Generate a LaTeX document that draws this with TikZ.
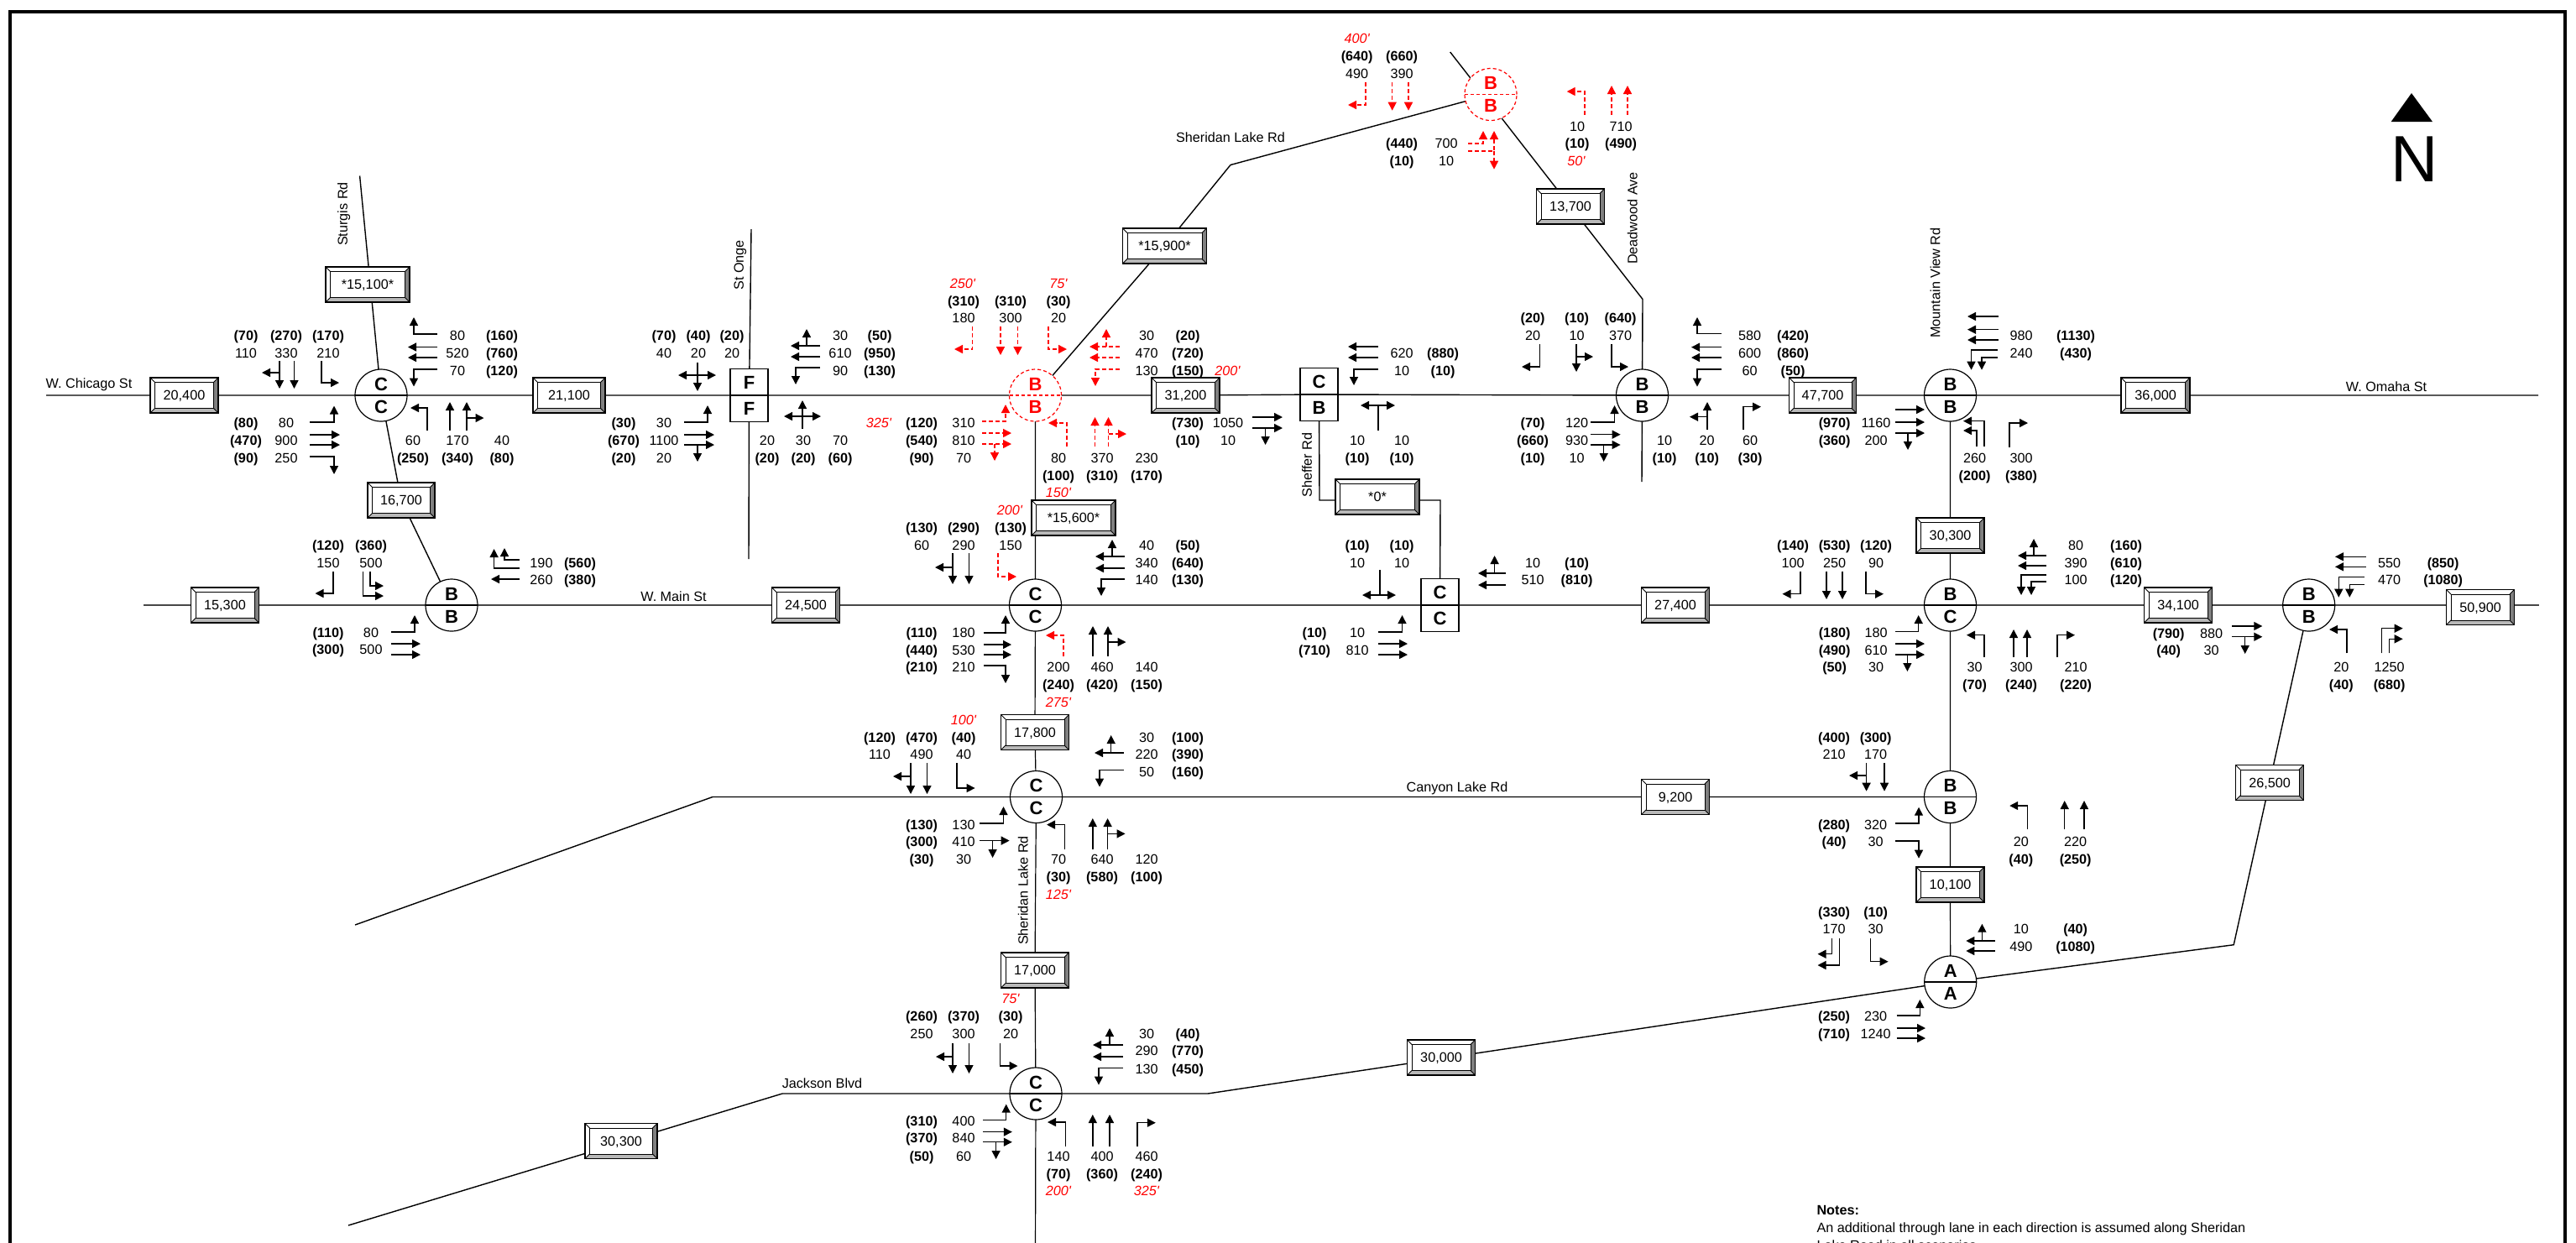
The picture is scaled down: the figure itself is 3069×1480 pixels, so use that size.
\documentclass[tikz,border=0pt]{standalone}
\usepackage{fontspec}
\setmainfont{Liberation Sans}
\newfontfamily\redfont{Liberation Sans}
\usetikzlibrary{arrows.meta,calc}
\pgfdeclarelayer{bg}\pgfsetlayers{bg,main}
\newcount\labc
\tikzset{
 lab/.style={inner sep=0pt,outer sep=0pt,text height=5.8pt,text depth=0pt,font=\fontsize{8.1}{10}\selectfont},
 labb/.style={lab,font=\fontsize{8.1}{10}\selectfont\bfseries},
 labr/.style={lab,text=red,font=\fontsize{8.1}{10}\selectfont\redfont\itshape},
 lane/.style={line width=0.7pt,-{Triangle[length=5pt,width=5pt]}},
 lanered/.style={lane,red,dash pattern=on 2.5pt off 1.5pt},
 road/.style={line width=0.7pt,black},
 mainroad/.style={line width=0.95pt,black!72},
 volbox/.style={draw=black,fill=white,line width=0.6pt,inner sep=0pt,outer sep=0pt,minimum height=21pt,text height=5.8pt,text depth=0pt,font=\fontsize{8.1}{10}\selectfont},
 ixc/.style={circle,draw=black,fill=white,line width=0.6pt,inner sep=0pt,outer sep=0pt,minimum size=31pt},
 ixcr/.style={circle,draw=red,fill=white,line width=0.6pt,dash pattern=on 2pt off 1.5pt,inner sep=0pt,outer sep=0pt,minimum size=31pt},
 ixs/.style={rectangle,draw=black,fill=white,line width=0.6pt,inner sep=0pt,outer sep=0pt,minimum width=22.5pt,minimum height=31.5pt},
 letter/.style={inner sep=0pt,outer sep=0pt,text height=7.8pt,text depth=0pt,font=\fontsize{11}{12}\selectfont\bfseries},
}
\def\lbl#1#2#3{\global\advance\labc by 1 \node[lab] (t\the\labc) at (#1,#2) {#3};}
\def\lbb#1#2#3{\global\advance\labc by 1 \node[labb] (t\the\labc) at (#1,#2) {#3};}
\def\lbr#1#2#3{\global\advance\labc by 1 \node[labr] (t\the\labc) at (#1,#2) {#3};}
\def\lbn#1#2#3{\global\advance\labc by 1 \node[lab,rotate=90] (t\the\labc) at (#1,#2) {#3};}
\def\ar#1{\draw[lane] #1;}
\def\re#1{\draw[lanered] #1;}
\def\vol#1#2#3#4#5{%
 \node[volbox,minimum width=#4*0.5pt] (#1) at (#2,#3) {#5};
 \fill[black!50] (#1.north east) -- (#1.south east) -- ($(#1.south east)+(-5.5,-5.5)$) -- ($(#1.north east)+(-5.5,5.5)$) -- cycle;
 \fill[black!28] (#1.south west) -- (#1.south east) -- ($(#1.south east)+(-5.5,-5.5)$) -- ($(#1.south west)+(5.5,-5.5)$) -- cycle;
 \draw[line width=0.45pt] ($(#1.north west)+(5.5,5.5)$) rectangle ($(#1.south east)+(-5.5,-5.5)$);
 \draw[line width=0.4pt] (#1.north west) -- ($(#1.north west)+(5.5,5.5)$) (#1.north east) -- ($(#1.north east)+(-5.5,5.5)$) (#1.south west) -- ($(#1.south west)+(5.5,-5.5)$) (#1.south east) -- ($(#1.south east)+(-5.5,-5.5)$);
 \draw[line width=0.6pt] (#1.north west) rectangle (#1.south east);
}
\def\ixn#1#2#3#4#5{%
 \node[ixc] (#1) at (#2,#3) {};
 \draw[road] (#1.west) -- (#1.east);
 \node[letter] (#1t) at (#2,#3-13.5) {#4};
 \node[letter] (#1b) at (#2,#3+13.5) {#5};
}
\def\ixr#1#2#3#4#5{%
 \node[ixcr] (#1) at (#2,#3) {};
 \draw[line width=0.6pt,red,dash pattern=on 2pt off 1.5pt] (#1.west) -- (#1.east);
 \node[letter,text=red] (#1t) at (#2,#3-13.5) {#4};
 \node[letter,text=red] (#1b) at (#2,#3+13.5) {#5};
}
\def\ixq#1#2#3#4#5{%
 \node[ixs] (#1) at (#2,#3) {};
 \draw[road] (#1.west) -- (#1.east);
 \node[letter] (#1t) at (#2,#3-15.5) {#4};
 \node[letter] (#1b) at (#2,#3+15.5) {#5};
}
\begin{document}
\begin{tikzpicture}[x=0.5pt,y=-0.5pt]
\useasboundingbox (0,0) rectangle (3069,1480);
\clip (0,0) rectangle (3069,1480);
% frame
\draw[line width=2pt] (12,1500) -- (12,14) -- (3056,14) -- (3056,1500);
% named free ends
\coordinate (cw) at (55,471); \coordinate (ce) at (3024,471);
\coordinate (mw) at (171,721); \coordinate (me) at (3025,721);
\coordinate (st1) at (428.6,209.5); \coordinate (so1) at (895,273); \coordinate (so2) at (892,666);
\coordinate (sb) at (1466,196.5); \coordinate (dt) at (1727.7,62); \coordinate (d2) at (1957,356.5); \coordinate (d3) at (1956,574);
\coordinate (sf1) at (1572,596); \coordinate (sf2) at (1716,596);
\coordinate (cl1) at (423,1102); \coordinate (cl2) at (849,949.5);
\coordinate (j1) at (415,1460); \coordinate (j2) at (932,1303); \coordinate (j3) at (1439,1303); \coordinate (j4) at (2661.2,1125.7);
\coordinate (sb0) at (1233.5,1500);
% intersections
\ixn{cca}{454}{471}{C}{C}
\ixn{bbl}{538}{721}{B}{B}
\ixq{ff}{892.5}{471}{F}{F}
\ixr{bbr}{1233.5}{471}{B}{B}
\ixr{bbt}{1776}{112.5}{B}{B}
\ixq{cb}{1571.5}{470}{C}{B}
\ixq{ccs}{1715.5}{721}{C}{C}
\ixn{bbd}{1956.5}{471}{B}{B}
\ixn{bbm}{2323.5}{471}{B}{B}
\ixn{ccm}{1233.5}{721}{C}{C}
\ixn{bc}{2323.5}{721}{B}{C}
\ixn{bbe}{2750.7}{721}{B}{B}
\ixn{ccc}{1234.5}{949.5}{C}{C}
\ixn{bbc}{2323.5}{949.5}{B}{B}
\ixn{ccj}{1234}{1303}{C}{C}
\ixn{aa}{2323.7}{1170}{A}{A}
% volume boxes
\vol{v20400}{219.5}{471}{81}{20,400}
\vol{v15100}{438}{339}{100}{*15,100*}
\vol{v21100}{678}{471}{86}{21,100}
\vol{v16700}{478}{596}{80}{16,700}
\vol{v15300}{268}{721}{81}{15,300}
\vol{v24500}{960}{721}{81}{24,500}
\vol{v15900}{1387.5}{293}{100}{*15,900*}
\vol{v13700}{1871}{246}{81}{13,700}
\vol{v31200}{1412.5}{471}{81}{31,200}
\vol{v15600}{1279}{617}{100}{*15,600*}
\vol{v0}{1641}{592}{100}{*0*}
\vol{v47700}{2171.5}{471}{80}{47,700}
\vol{v36000}{2568}{471}{82}{36,000}
\vol{v30300b}{2323.5}{638}{81}{30,300}
\vol{v27400}{1996}{721}{81}{27,400}
\vol{v34100}{2595}{721}{81}{34,100}
\vol{v50900}{2955}{723.5}{81}{50,900}
\vol{v17800}{1233}{872.5}{81}{17,800}
\vol{v9200}{1996}{949.5}{81}{9,200}
\vol{v26500}{2704}{932.5}{81}{26,500}
\vol{v10100}{2323.5}{1054}{81}{10,100}
\vol{v17000}{1233}{1156}{81}{17,000}
\vol{v30000}{1717}{1260}{81}{30,000}
\vol{v30300}{740}{1359.5}{86}{30,300}
% roads
\begin{pgfonlayer}{bg}
\draw[road] (cw) -- (v20400) (v20400) -- (cca) (cca) -- (v21100) (v21100) -- (ff) (ff) -- (bbr) (bbr) -- (v31200) (v31200) -- (cb.center) (cb.center) -- (bbd) (bbd) -- (v47700) (v47700) -- (bbm) (bbm) -- (v36000) (v36000) -- (ce);
\draw[mainroad] (mw) -- (v15300) (v15300) -- (bbl) (bbl) -- (v24500) (v24500) -- (ccm) (ccm) -- (ccs) (ccs) -- (v27400) (v27400) -- (bc) (bc) -- (v34100) (v34100) -- (bbe) (bbe) -- (me);
\draw[road] (cl1) -- (cl2) -- (ccc) (ccc) -- (v9200) (v9200) -- (bbc);
\draw[road] (j1) -- (j2) -- (ccj) (ccj) -- (j3) -- (aa) (aa) -- (j4) -- (bbe);
\draw[road] (st1) -- (cca) (cca) -- (v16700) (v16700) -- (bbl);
\draw[road] (so1) -- (ff) (ff) -- (so2);
\draw[road] (bbr) -- (v15900) (v15900) -- (sb) -- (bbt);
\draw[road] (dt) -- (d2) -- (bbd) (bbd) -- (d3);
\draw[road] (cb) -- (sf1) -- (sf2) -- (ccs);
\draw[road,line width=0.6pt] (bbr) -- (ccm) (ccm) -- (v17800) (v17800) -- (ccc) (ccc) -- (v17000) (v17000) -- (ccj) (ccj) -- (sb0);
\draw[road,line width=0.6pt] (bbm) -- (v30300b) (v30300b) -- (bc) (bc) -- (bbc) (bbc) -- (v10100) (v10100) -- (aa);
\end{pgfonlayer}
% road names
\lbl{106}{457}{W. Chicago St}
\lbl{802.5}{711}{W. Main St}
\lbl{2843}{461}{W. Omaha St}
\lbl{1466}{164}{Sheridan Lake Rd}
\lbl{1736}{938}{Canyon Lake Rd}
\lbl{979.5}{1291}{Jackson Blvd}
\lbn{408}{255}{Sturgis Rd}
\lbn{880}{316}{St Onge}
\lbn{1557}{554}{Sheffer Rd}
\lbn{1218.7}{1061}{Sheridan Lake Rd}
\lbn{1944.7}{260}{Deadwood Ave}
\lbn{2305.6}{337}{Mountain View Rd}
% north arrow
\fill (2873,111) -- (2898,145) -- (2848.7,145) -- cycle;
\node[inner sep=0pt,text height=28pt,text depth=0pt,font=\fontsize{39}{40}\selectfont] (north) at (2876.7,188.7) {N};
% notes
\node[labb,anchor=west] (n1) at (2164.5,1442) {Notes:};
\node[lab,anchor=west] (n2) at (2164.5,1463) {An additional through lane in each direction is assumed along Sheridan};
\node[lab,anchor=west] (n3) at (2164.5,1484) {Lake Road in all scenarios};
% ---- Chicago/Sturgis
\lbb{293}{400}{(70)}\lbb{341}{400}{(270)}\lbb{391}{400}{(170)}
\lbl{293}{421}{110}\lbl{341}{421}{330}\lbl{391}{421}{210}
\lbl{545}{400}{80}\lbb{598}{400}{(160)}\lbl{545}{421}{520}\lbb{598}{421}{(760)}\lbl{545}{442}{70}\lbb{598}{442}{(120)}
\lbb{293}{504}{(80)}\lbl{341}{504}{80}\lbb{293}{525}{(470)}\lbl{341}{525}{900}\lbb{293}{546}{(90)}\lbl{341}{546}{250}
\lbl{492}{525}{60}\lbl{545}{525}{170}\lbl{598}{525}{40}\lbb{492}{546}{(250)}\lbb{545}{546}{(340)}\lbb{598}{546}{(80)}
\ar{(333,430)--(333,463)}\ar{(333,444)--(312,444)}\ar{(350.5,430)--(350.5,463)}\ar{(383,430)--(383,456)--(404,456)}
\ar{(521,398)--(493,398)--(493,378)}\ar{(521,413.5)--(486,413.5)}\ar{(521,426)--(486,426)}\ar{(521,440)--(493,440)--(493,460.5)}
\ar{(369,503)--(398,503)--(398,483.5)}\ar{(369,518)--(405,518)}\ar{(369,530)--(405,530)}\ar{(369,544)--(398,544)--(398,565)}
\ar{(509,513)--(509,486)--(489,486)}\ar{(536,513)--(536,479)}\ar{(556,513)--(556,479)}\ar{(556,498)--(576.5,498)}
% ---- Main/west B
\lbb{391}{650}{(120)}\lbb{442}{650}{(360)}\lbl{391}{671}{150}\lbl{442}{671}{500}
\lbl{645}{671}{190}\lbb{691}{671}{(560)}\lbl{645}{691}{260}\lbb{691}{691}{(380)}
\lbb{391}{754}{(110)}\lbl{442}{754}{80}\lbb{391}{774}{(300)}\lbl{442}{774}{500}
\ar{(397,681)--(397,707)--(375.5,707)}\ar{(432.4,681)--(432.4,710)--(457,710)}\ar{(441,681)--(441,698)--(457,698)}
\ar{(619,677)--(588.6,677)--(588.6,654)}\ar{(619,667)--(601,667)--(601,653)}\ar{(619,690)--(585,690)}
\ar{(466,753)--(494,753)--(494,733)}\ar{(466,767)--(501,767)}\ar{(466,780)--(501,780)}
% ---- St Onge
\lbb{791}{400}{(70)}\lbb{832}{400}{(40)}\lbb{872}{400}{(20)}\lbl{791}{421}{40}\lbl{832}{421}{20}\lbl{872}{421}{20}
\lbl{1001}{400}{30}\lbb{1048}{400}{(50)}\lbl{1001}{421}{610}\lbb{1048}{421}{(950)}\lbl{1001}{442}{90}\lbb{1048}{442}{(130)}
\lbb{743}{504}{(30)}\lbl{791}{504}{30}\lbb{743}{525}{(670)}\lbl{791}{525}{1100}\lbb{743}{546}{(20)}\lbl{791}{546}{20}
\lbl{914}{525}{20}\lbl{957}{525}{30}\lbl{1001}{525}{70}\lbb{914}{546}{(20)}\lbb{957}{546}{(20)}\lbb{1001}{546}{(60)}
\ar{(831,432)--(831,466)}\ar{(831,447)--(808,447)}\ar{(831,447)--(853,447)}
\ar{(977,412)--(942,412)}\ar{(961,412)--(961,392)}\ar{(977,425)--(942,425)}\ar{(977,438)--(948,438)--(948,458)}
\ar{(815,503)--(843,503)--(843,483)}\ar{(815,518)--(851,518)}\ar{(815,530)--(851,530)}\ar{(831,530)--(831,550)}
\ar{(956,511)--(956,477)}\ar{(956,496)--(934,496)}\ar{(956,496)--(978,496)}
% ---- Sheridan/Chicago (red)
\lbr{1147}{338}{250'}\lbr{1261}{338}{75'}
\lbb{1148}{359}{(310)}\lbb{1204}{359}{(310)}\lbb{1261}{359}{(30)}\lbl{1148}{379}{180}\lbl{1204}{379}{300}\lbl{1261}{379}{20}
\lbl{1366}{400}{30}\lbb{1415}{400}{(20)}\lbl{1366}{421}{470}\lbb{1415}{421}{(720)}\lbl{1366}{442}{130}\lbb{1415}{442}{(150)}\lbr{1462.5}{442}{200'}
\lbr{1047}{504}{325'}\lbb{1098}{504}{(120)}\lbl{1148}{504}{310}\lbb{1098}{525}{(540)}\lbl{1148}{525}{810}\lbb{1098}{546}{(90)}\lbl{1148}{546}{70}
\lbl{1261}{546}{80}\lbl{1313}{546}{370}\lbl{1366}{546}{230}\lbb{1261}{567}{(100)}\lbb{1313}{567}{(310)}\lbb{1366}{567}{(170)}\lbr{1261}{587}{150'}
\lbb{1415}{504}{(730)}\lbl{1463}{504}{1050}\lbb{1415}{525}{(10)}\lbl{1463}{525}{10}
\re{(1158.5,389)--(1158.5,416)--(1137,416)}\re{(1192,389)--(1192,423)}\re{(1212.5,389)--(1212.5,423)}\re{(1249,389)--(1249,416)--(1271,416)}
\re{(1334,413)--(1298,413)}\re{(1318,413)--(1318,392)}\re{(1334,426)--(1298,426)}\re{(1334,440)--(1305,440)--(1305,460)}
\re{(1170,502)--(1198,502)--(1198,482)}\re{(1170,516)--(1205,516)}\re{(1170,529)--(1205,529)}\re{(1185,529)--(1185,549)}
\re{(1271,532)--(1271,504)--(1249,504)}\re{(1304.5,532)--(1304.5,497)}\re{(1320.5,532)--(1320.5,497)}\re{(1320.5,517)--(1342,517)}
\ar{(1492,497)--(1528,497)}\ar{(1492,510)--(1528,510)}\ar{(1507.6,510)--(1507.6,530)}
% ---- Sheffer
\lbl{1670}{421}{620}\lbb{1719}{421}{(880)}\lbl{1670}{442}{10}\lbb{1719}{442}{(10)}
\lbl{1617}{525}{10}\lbl{1670}{525}{10}\lbb{1617}{546}{(10)}\lbb{1670}{546}{(10)}
\ar{(1641.5,413)--(1606,413)}\ar{(1641.5,426)--(1606,426)}\ar{(1641.5,440)--(1613,440)--(1613,459)}
\ar{(1642,513)--(1642,483)--(1621,483)}\ar{(1642,483)--(1662,483)}
\lbb{1617}{650}{(10)}\lbb{1670}{650}{(10)}\lbl{1617}{671}{10}\lbl{1670}{671}{10}
\ar{(1644,679)--(1644,709)--(1623,709)}\ar{(1644,709)--(1663,709)}
\lbb{1566}{754}{(10)}\lbl{1617}{754}{10}\lbb{1566}{775}{(710)}\lbl{1617}{775}{810}
\ar{(1642,753)--(1670.5,753)--(1670.5,733)}\ar{(1642,767)--(1677,767)}\ar{(1642,780)--(1677,780)}
\lbl{1826}{671}{10}\lbb{1878.6}{671}{(10)}\lbl{1826}{691}{510}\lbb{1878.6}{691}{(810)}
\ar{(1794,683)--(1761,683)}\ar{(1780.6,683)--(1780.6,662)}\ar{(1794,697)--(1761,697)}
% ---- Sheridan/Main
\lbr{1203}{608}{200'}
\lbb{1098}{629}{(130)}\lbb{1148}{629}{(290)}\lbb{1204}{629}{(130)}\lbl{1098}{650}{60}\lbl{1148}{650}{290}\lbl{1204}{650}{150}
\lbl{1366}{650}{40}\lbb{1415}{650}{(50)}\lbl{1366}{671}{340}\lbb{1415}{671}{(640)}\lbl{1366}{691}{140}\lbb{1415}{691}{(130)}
\lbb{1098}{754}{(110)}\lbl{1148}{754}{180}\lbb{1098}{775}{(440)}\lbl{1148}{775}{530}\lbb{1098}{795}{(210)}\lbl{1148}{795}{210}
\lbl{1261}{795}{200}\lbl{1313}{795}{460}\lbl{1366}{795}{140}\lbb{1261}{816}{(240)}\lbb{1313}{816}{(420)}\lbb{1366}{816}{(150)}\lbr{1261}{837}{275'}
\ar{(1135,659)--(1135,696)}\ar{(1135,676)--(1114,676)}\ar{(1154.5,659)--(1154.5,696)}\re{(1189,659)--(1189,687)--(1211,687)}
\ar{(1340,663)--(1305,663)}\ar{(1325,663)--(1325,643)}\ar{(1340,677)--(1305,677)}\ar{(1340,690)--(1312,690)--(1312,710)}
\ar{(1172,754)--(1198,754)--(1198,733)}\ar{(1172,768)--(1205,768)}\ar{(1172,780)--(1205,780)}\ar{(1172,793)--(1198,793)--(1198,814)}
\re{(1267,782)--(1267,757)--(1246,757)}\ar{(1302,782)--(1302,746)}\ar{(1320,782)--(1320,746)}\ar{(1320,765)--(1341.5,765)}
% ---- Sheridan/Canyon
\lbr{1148}{858}{100'}
\lbb{1048}{878.5}{(120)}\lbb{1098}{878.5}{(470)}\lbb{1148}{878.5}{(40)}\lbl{1048}{899}{110}\lbl{1098}{899}{490}\lbl{1148}{899}{40}
\lbl{1366}{878.5}{30}\lbb{1415}{878.5}{(100)}\lbl{1366}{899}{220}\lbb{1415}{899}{(390)}\lbl{1366}{920}{50}\lbb{1415}{920}{(160)}
\lbb{1098}{982.6}{(130)}\lbl{1148}{982.6}{130}\lbb{1098}{1002.5}{(300)}\lbl{1148}{1002.5}{410}\lbb{1098}{1024}{(30)}\lbl{1148}{1024}{30}
\lbl{1261}{1024}{70}\lbl{1313}{1024}{640}\lbl{1366}{1024}{120}\lbb{1261}{1044.6}{(30)}\lbb{1313}{1044.6}{(580)}\lbb{1366}{1044.6}{(100)}\lbr{1261}{1065.4}{125'}
\ar{(1085,909)--(1085,946)}\ar{(1085,925)--(1064,925)}\ar{(1104.5,909)--(1104.5,946)}\ar{(1140,909)--(1140,939)--(1161.6,939)}
\ar{(1339,897)--(1304,897)}\ar{(1323.7,897)--(1323.7,876)}\ar{(1339,917.5)--(1310,917.5)--(1310,937.5)}
\ar{(1167.4,981)--(1195.5,981)--(1195.5,961)}\ar{(1167.4,1001.6)--(1202.7,1001.6)}\ar{(1182.6,1001.6)--(1182.6,1022)}
\ar{(1268.7,1012)--(1268.7,982.6)--(1247,982.6)}\ar{(1301.8,1012)--(1301.8,975)}\ar{(1319.6,1012)--(1319.6,975)}\ar{(1319.6,993.4)--(1340.6,993.4)}
% ---- Sheridan/Jackson
\lbr{1204}{1190}{75'}
\lbb{1098}{1210.7}{(260)}\lbb{1148}{1210.7}{(370)}\lbb{1204}{1210.7}{(30)}\lbl{1098}{1231.5}{250}\lbl{1148}{1231.5}{300}\lbl{1204}{1231.5}{20}
\lbl{1366}{1231.5}{30}\lbb{1415}{1231.5}{(40)}\lbl{1366}{1252}{290}\lbb{1415}{1252}{(770)}\lbl{1366}{1273.5}{130}\lbb{1415}{1273.5}{(450)}
\lbb{1098}{1335.5}{(310)}\lbl{1148}{1335.5}{400}\lbb{1098}{1356}{(370)}\lbl{1148}{1356}{840}\lbb{1098}{1377.6}{(50)}\lbl{1148}{1377.6}{60}
\lbl{1261}{1377.6}{140}\lbl{1313}{1377.6}{400}\lbl{1366}{1377.6}{460}\lbb{1261}{1398.4}{(70)}\lbb{1313}{1398.4}{(360)}\lbb{1366}{1398.4}{(240)}\lbr{1261}{1419}{200'}\lbr{1366}{1419}{325'}
\ar{(1135,1243)--(1135,1279)}\ar{(1135,1259)--(1115,1259)}\ar{(1154.5,1243)--(1154.5,1279)}\ar{(1191.5,1243)--(1191.5,1270)--(1212.5,1270)}
\ar{(1338,1245)--(1302,1245)}\ar{(1322,1245)--(1322,1225)}\ar{(1338,1259)--(1302,1259)}\ar{(1338,1272.7)--(1309,1272.7)--(1309,1292.6)}
\ar{(1171,1334.7)--(1198.7,1334.7)--(1198.7,1315.6)}\ar{(1171,1348.6)--(1205.8,1348.6)}\ar{(1171,1360.7)--(1205.8,1360.7)}\ar{(1186.6,1360.7)--(1186.6,1381)}
\ar{(1269.6,1366)--(1269.6,1337)--(1248,1337)}\ar{(1301.8,1366)--(1301.8,1328)}\ar{(1322,1366)--(1322,1328)}\ar{(1355,1366)--(1355,1337.7)--(1376.8,1337.7)}
% ---- Top B
\lbr{1616.7}{46}{400'}
\lbb{1616.7}{66.7}{(640)}\lbb{1670}{66.7}{(660)}\lbl{1616.7}{87.7}{490}\lbl{1670}{87.7}{390}
\re{(1627,98)--(1627,125)--(1606,125)}\re{(1658.7,98)--(1658.7,131.7)}\re{(1678,98)--(1678,131.7)}
\lbb{1670}{170.7}{(440)}\lbl{1723}{170.7}{700}\lbb{1670}{191.7}{(10)}\lbl{1723}{191.7}{10}
\re{(1749,171)--(1767,171)--(1767,156)}\re{(1749,180)--(1780,180)--(1780,156)}\re{(1780,180)--(1780,201.7)}
\lbl{1879}{150.7}{10}\lbl{1931}{150.7}{710}\lbb{1879}{170.7}{(10)}\lbb{1931}{170.7}{(490)}\lbr{1878}{191.7}{50'}
\re{(1888,136.7)--(1888,109)--(1866.7,109)}\re{(1920,136.7)--(1920,102)}\re{(1939,136.7)--(1939,102)}
% ---- Deadwood/Chicago
\lbb{1826}{378.7}{(20)}\lbb{1878.6}{378.7}{(10)}\lbb{1930.6}{378.7}{(640)}\lbl{1826}{400}{20}\lbl{1878.6}{400}{10}\lbl{1930.6}{400}{370}
\lbl{2084.7}{400}{580}\lbb{2136}{400}{(420)}\lbl{2084.7}{421}{600}\lbb{2136}{421}{(860)}\lbl{2084.7}{442}{60}\lbb{2136}{442}{(50)}
\lbb{1826}{504}{(70)}\lbl{1878.6}{504}{120}\lbb{1826}{525}{(660)}\lbl{1878.6}{525}{930}\lbb{1826}{546}{(10)}\lbl{1878.6}{546}{10}
\lbl{1983}{525}{10}\lbl{2033.7}{525}{20}\lbl{2085}{525}{60}\lbb{1983}{546}{(10)}\lbb{2033.7}{546}{(10)}\lbb{2085}{546}{(30)}
\ar{(1834.7,410)--(1834.7,437)--(1813,437)}\ar{(1878,410)--(1878,443)}\ar{(1878,425)--(1898,425)}\ar{(1920,410)--(1920,437)--(1940,437)}
\ar{(2051,397.7)--(2022,397.7)--(2022,378)}\ar{(2051,413.7)--(2015,413.7)}\ar{(2051,426)--(2015,426)}\ar{(2051,440)--(2022,440)--(2022,460.7)}
\ar{(1895,503)--(1923.5,503)--(1923.5,483)}\ar{(1895,517.7)--(1930.6,517.7)}\ar{(1895,530)--(1930.6,530)}\ar{(1910.7,530)--(1910.7,550)}
\ar{(2034,511.7)--(2034,479)}\ar{(2034,496.7)--(2013,496.7)}\ar{(2077,511.7)--(2077,484.7)--(2098,484.7)}
% ---- Mountain View/Chicago
\lbl{2408}{400}{980}\lbb{2473}{400}{(1130)}\lbl{2408}{421}{240}\lbb{2473}{421}{(430)}
\lbb{2185.7}{504}{(970)}\lbl{2235}{504}{1160}\lbb{2185.7}{525}{(360)}\lbl{2235}{525}{200}
\lbl{2352.5}{546}{260}\lbl{2408}{546}{300}\lbb{2352.5}{567}{(200)}\lbb{2408}{567}{(380)}
\ar{(2381,377)--(2344,377)}\ar{(2381,392.7)--(2344,392.7)}\ar{(2381,405)--(2344,405)}
\ar{(2380,417)--(2348.5,417)--(2348.5,440.7)}\ar{(2380,426)--(2361,426)--(2361,440.7)}
\ar{(2258,488)--(2293,488)}\ar{(2258,503)--(2293,503)}\ar{(2258,516)--(2293,516)}\ar{(2273,516)--(2273,536)}
\ar{(2364,531.7)--(2364,501.7)--(2339,501.7)}\ar{(2355,531.7)--(2355,513)--(2339,513)}\ar{(2394,532.7)--(2394,504)--(2416,504)}
% ---- Mountain View/Main
\lbb{2136}{650}{(140)}\lbb{2185.7}{650}{(530)}\lbb{2235}{650}{(120)}\lbl{2136}{670.7}{100}\lbl{2185.7}{670.7}{250}\lbl{2235}{670.7}{90}
\lbl{2473}{650}{80}\lbb{2533}{650}{(160)}\lbl{2473}{671}{390}\lbb{2533}{671}{(610)}\lbl{2473}{691}{100}\lbb{2533}{691}{(120)}
\lbb{2185.7}{754}{(180)}\lbl{2235}{754}{180}\lbb{2185.7}{775}{(490)}\lbl{2235}{775}{610}\lbb{2185.7}{795}{(50)}\lbl{2235}{795}{30}
\lbl{2352.5}{795}{30}\lbl{2408}{795}{300}\lbl{2473}{795}{210}\lbb{2352.5}{816}{(70)}\lbb{2408}{816}{(240)}\lbb{2473}{816}{(220)}
\ar{(2145,680.7)--(2145,707.7)--(2123.5,707.7)}\ar{(2176,680.7)--(2176,714)}\ar{(2195,680.7)--(2195,714)}\ar{(2223,680.7)--(2223,707.7)--(2244,707.7)}
\ar{(2438,662)--(2404,662)}\ar{(2423,662)--(2423,642)}\ar{(2438,674)--(2404,674)}\ar{(2438,685)--(2408,685)--(2408,709)}\ar{(2438,693)--(2420,693)--(2420,709)}
\ar{(2258,752.7)--(2285.7,752.7)--(2285.7,733)}\ar{(2258,767)--(2293,767)}\ar{(2258,780)--(2293,780)}\ar{(2272.4,780)--(2272.4,800)}
\ar{(2364,783)--(2364,756.7)--(2343,756.7)}\ar{(2399,783)--(2399,750)}\ar{(2415,783)--(2415,750)}\ar{(2451,783)--(2451,756.7)--(2472,756.7)}
% ---- East Main
\lbb{2583.7}{754.3}{(790)}\lbl{2634.7}{754.3}{880}\lbb{2583.7}{775}{(40)}\lbl{2634.7}{775}{30}
\lbl{2846.7}{670.7}{550}\lbb{2910.7}{670.7}{(850)}\lbl{2846.7}{690.7}{470}\lbb{2910.7}{690.7}{(1080)}
\lbl{2789.3}{795}{20}\lbl{2846.7}{795}{1250}\lbb{2789.3}{815.7}{(40)}\lbb{2846.7}{815.7}{(680)}
\ar{(2659.3,746)--(2695.3,746)}\ar{(2659.3,758.7)--(2695.3,758.7)}\ar{(2674.7,758.7)--(2674.7,779)}
\ar{(2818.7,663.3)--(2782,663.3)}\ar{(2818.7,675.3)--(2782,675.3)}\ar{(2817.3,687.7)--(2786.3,687.7)--(2786.3,711.7)}\ar{(2817.3,696.7)--(2799.3,696.7)--(2799.3,711.7)}
\ar{(2796,778.3)--(2796,750)--(2775,750)}\ar{(2837.7,778.3)--(2837.7,748.7)--(2862.7,748.7)}\ar{(2846.7,778.3)--(2846.7,761.3)--(2862.7,761.3)}
% ---- Canyon/Mountain View
\lbb{2185}{878.7}{(400)}\lbb{2234.7}{878.7}{(300)}\lbl{2185}{899}{210}\lbl{2234.7}{899}{170}
\lbb{2185}{982.7}{(280)}\lbl{2234.7}{982.7}{320}\lbb{2185}{1003}{(40)}\lbl{2234.7}{1003}{30}
\lbl{2407.8}{1003}{20}\lbl{2472.7}{1003}{220}\lbb{2407.8}{1024}{(40)}\lbb{2472.7}{1024}{(250)}
\ar{(2223.6,909)--(2223.6,942.7)}\ar{(2223.6,924)--(2203,924)}\ar{(2245,909)--(2245,942.7)}
\ar{(2257.6,981)--(2286,981)--(2286,961.7)}\ar{(2257.6,1002)--(2286,1002)--(2286,1022.7)}
\ar{(2415.2,988)--(2415.2,960)--(2394.2,960)}\ar{(2459.7,988)--(2459.7,954)}\ar{(2483,988)--(2483,954)}
% ---- A
\lbb{2185}{1087}{(330)}\lbb{2234.7}{1087}{(10)}\lbl{2185}{1107}{170}\lbl{2234.7}{1107}{30}
\lbl{2407.8}{1107}{10}\lbb{2472.7}{1107}{(40)}\lbl{2407.8}{1128}{490}\lbb{2472.7}{1128}{(1080)}
\lbb{2185}{1210.7}{(250)}\lbl{2234.7}{1210.7}{230}\lbb{2185}{1231.7}{(710)}\lbl{2234.7}{1231.7}{1240}
\ar{(2182.2,1118)--(2182.2,1136.7)--(2165.5,1136.7)}\ar{(2191.5,1118)--(2191.5,1150)--(2165.5,1150)}\ar{(2228.6,1118)--(2228.6,1145.7)--(2249.6,1145.7)}
\ar{(2376.9,1121)--(2342.3,1121)}\ar{(2361.4,1121)--(2361.4,1100.7)}\ar{(2376.9,1133)--(2342.3,1133)}
\ar{(2259.5,1210)--(2287.3,1210)--(2287.3,1191)}\ar{(2259.5,1225)--(2294,1225)}\ar{(2259.5,1237)--(2294,1237)}
\end{tikzpicture}
\end{document}
